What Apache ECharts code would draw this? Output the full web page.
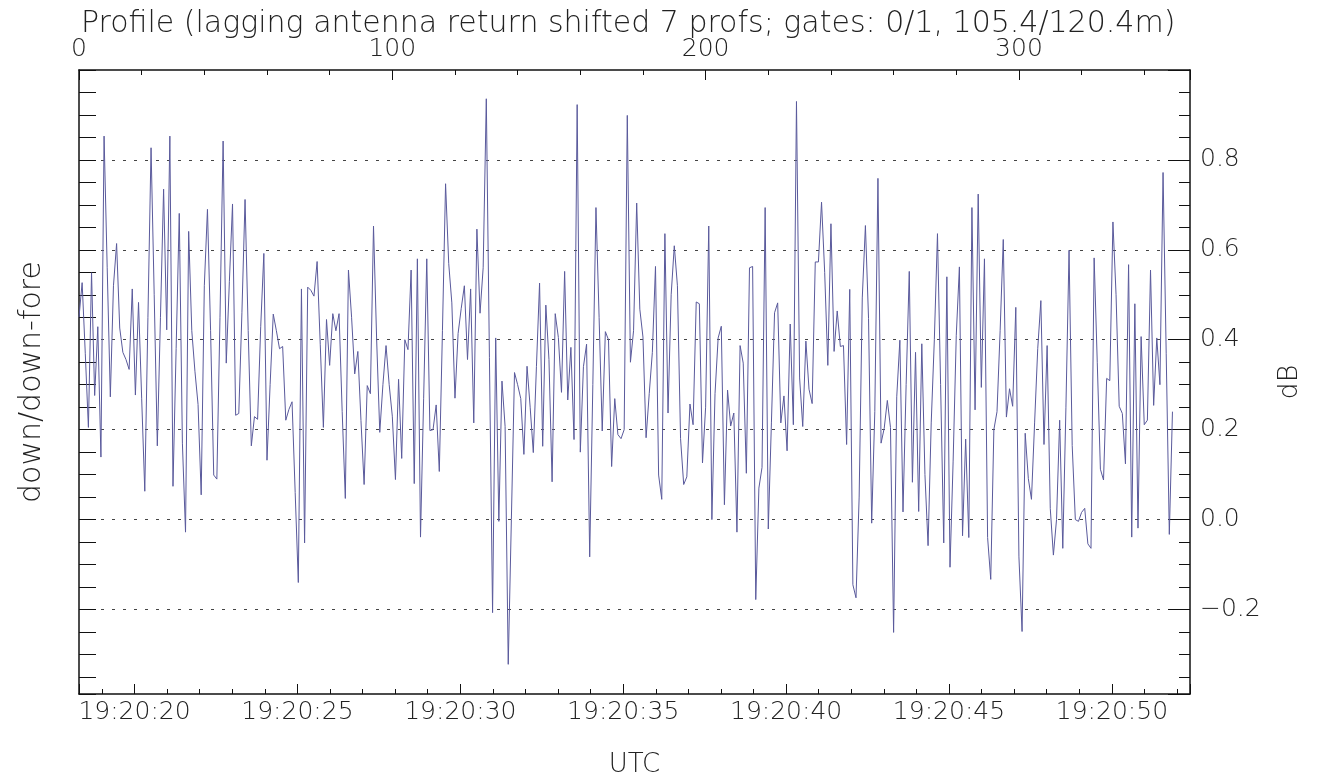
<!DOCTYPE html>
<html><head><meta charset="utf-8">
<script src="https://cdn.jsdelivr.net/npm/echarts@6/dist/echarts.min.js"></script>
<style>html,body{margin:0;padding:0;background:#fff}#c{width:1319px;height:783px}</style>
</head><body><div id="c"></div>
<script>
const titleText = 'Profile (lagging antenna return shifted 7 profs; gates: 0/1, 105.4/120.4m)';
const leftAxisName = 'down/down-fore';
const rightAxisName = 'dB';
const bottomAxisName = 'UTC';
const timePrefix = '19:20:';
// seconds after 19:20:00 at left and right plot edges
const timeStartSec = 18.296;
const timeEndSec = 52.397;
const profileMin = 0;
const profileMax = 354.6;
const yMin = -0.388;
const yMax = 1.0;
// one value per profile (0..349)
const ratioDb = [
0.45,0.527,0.37,0.205,0.549,0.276,0.429,0.139,0.853,0.56,
0.273,0.52,0.614,0.426,0.372,0.356,0.334,0.513,0.277,0.483,
0.27,0.063,0.45,0.827,0.5,0.164,0.45,0.735,0.422,0.853,
0.074,0.38,0.681,0.17,-0.028,0.641,0.42,0.33,0.256,0.055,
0.52,0.69,0.42,0.099,0.09,0.45,0.842,0.348,0.53,0.702,
0.232,0.236,0.46,0.712,0.42,0.164,0.229,0.223,0.43,0.592,
0.132,0.3,0.457,0.42,0.38,0.385,0.221,0.245,0.262,0.06,
-0.14,0.513,-0.052,0.517,0.51,0.497,0.574,0.39,0.205,0.445,
0.343,0.458,0.42,0.458,0.24,0.047,0.555,0.45,0.324,0.374,
0.22,0.078,0.298,0.28,0.653,0.4,0.194,0.3,0.387,0.3,
0.23,0.089,0.312,0.136,0.4,0.378,0.555,0.08,0.58,-0.039,
0.27,0.58,0.198,0.2,0.255,0.107,0.42,0.747,0.57,0.482,
0.27,0.414,0.47,0.52,0.356,0.513,0.215,0.646,0.459,0.56,
0.936,0.36,-0.207,0.404,-0.004,0.308,0.207,-0.322,0.0,0.327,
0.3,0.269,0.145,0.341,0.25,0.149,0.34,0.526,0.163,0.477,
0.356,0.084,0.458,0.405,0.283,0.552,0.266,0.383,0.178,0.923,
0.15,0.34,0.39,-0.083,0.3,0.694,0.45,0.197,0.418,0.4,
0.118,0.269,0.189,0.18,0.2,0.899,0.35,0.42,0.704,0.468,
0.406,0.182,0.28,0.372,0.563,0.099,0.045,0.636,0.237,0.5,
0.609,0.52,0.18,0.078,0.095,0.257,0.211,0.484,0.48,0.126,
0.25,0.653,0.0,0.28,0.404,0.43,0.033,0.288,0.208,0.237,
-0.028,0.387,0.348,0.103,0.56,0.563,-0.178,0.07,0.116,0.694,
-0.021,0.215,0.46,0.482,0.215,0.275,0.153,0.435,0.211,0.93,
0.315,0.207,0.397,0.29,0.258,0.573,0.573,0.706,0.55,0.343,
0.658,0.374,0.464,0.385,0.387,0.167,0.512,-0.145,-0.174,0.05,
0.493,0.654,0.447,-0.008,0.24,0.759,0.17,0.203,0.265,0.205,
-0.251,0.273,0.399,0.017,0.3,0.552,0.083,0.372,0.018,0.391,
0.1,-0.058,0.215,0.4,0.636,0.3,-0.052,0.54,-0.106,0.13,
0.41,0.562,-0.036,0.179,-0.04,0.694,0.244,0.724,0.294,0.58,
-0.04,-0.133,0.2,0.24,0.42,0.623,0.228,0.291,0.252,0.472,
-0.083,-0.249,0.192,0.091,0.045,0.215,0.38,0.487,0.167,0.387,
0.025,-0.079,0.0,0.221,-0.064,0.25,0.599,0.165,0.0,-0.004,
0.016,0.025,-0.054,-0.064,0.582,0.35,0.112,0.088,0.314,0.309,
0.662,0.5,0.252,0.236,0.124,0.567,-0.039,0.48,-0.019,0.407,
0.211,0.221,0.555,0.254,0.404,0.3,0.772,0.37,-0.033,0.24
];
const profiles = ratioDb.map((v, i) => i);

const FONT = 'DejaVu Sans';
const TXT = '#222';
const axisLineStyle = { color: '#111', width: 1.5 };
const labelStyle = { color: TXT, fontFamily: FONT, fontSize: 25, fontWeight: 200 };
const nameStyle = { color: TXT, fontFamily: FONT, fontSize: 30, fontWeight: 200 };

const chart = echarts.init(document.getElementById('c'), null, { renderer: 'canvas' });
chart.setOption({
  animation: false,
  backgroundColor: '#fff',
  title: {
    text: titleText, left: 76, top: 4,
    textStyle: { color: TXT, fontFamily: FONT, fontSize: 30, fontWeight: 200 }
  },
  grid: { left: 79, right: 129, top: 70, bottom: 88, containLabel: false },
  xAxis: [
    {
      type: 'value', position: 'top', min: profileMin, max: profileMax,
      minInterval: 100, maxInterval: 100, splitNumber: 4,
      axisLine: { show: true, onZero: false, lineStyle: axisLineStyle },
      axisTick: { show: true, inside: true, length: 10, lineStyle: { color: '#111' } },
      minorTick: { show: true, splitNumber: 5, length: 5, lineStyle: { color: '#111' } },
      splitLine: { show: false },
      axisLabel: Object.assign({ margin: 8, showMaxLabel: false }, labelStyle)
    },
    {
      type: 'value', position: 'bottom', min: timeStartSec, max: timeEndSec,
      minInterval: 5, maxInterval: 5, splitNumber: 7,
      name: bottomAxisName, nameLocation: 'middle', nameGap: 58,
      nameTextStyle: Object.assign({}, nameStyle, { fontSize: 26 }),
      axisLine: { show: true, onZero: false, lineStyle: axisLineStyle },
      axisTick: { show: true, inside: true, length: 10, lineStyle: { color: '#111' } },
      minorTick: { show: true, splitNumber: 5, length: 5, lineStyle: { color: '#111' } },
      splitLine: { show: false },
      axisLabel: Object.assign({
        margin: 6, showMinLabel: false, showMaxLabel: false,
        formatter: v => timePrefix + String(Math.round(v)).padStart(2, '0')
      }, labelStyle)
    }
  ],
  yAxis: [
    {
      type: 'value', position: 'left', min: yMin, max: yMax,
      minInterval: 0.05, maxInterval: 0.05, splitNumber: 28,
      name: leftAxisName, nameLocation: 'middle', nameGap: 32,
      nameTextStyle: nameStyle,
      axisLine: { show: true, onZero: false, lineStyle: axisLineStyle },
      axisTick: { show: true, inside: true, length: 17, lineStyle: { color: '#111' } },
      axisLabel: { show: false },
      splitLine: { show: false }
    },
    {
      type: 'value', position: 'right', min: yMin, max: yMax,
      minInterval: 0.2, maxInterval: 0.2, splitNumber: 7,
      name: rightAxisName, nameLocation: 'middle', nameGap: 86,
      nameTextStyle: Object.assign({}, nameStyle, { fontSize: 27 }),
      axisLine: { show: true, onZero: false, lineStyle: axisLineStyle },
      axisTick: { show: true, inside: true, length: 22, lineStyle: { color: '#111' } },
      minorTick: { show: true, splitNumber: 4, length: 11, lineStyle: { color: '#111' } },
      splitLine: { show: true, showMinLine: false, showMaxLine: false,
        lineStyle: { color: '#444', width: 1.2, type: [3, 8] } },
      axisLabel: Object.assign({
        margin: 10, showMinLabel: false, showMaxLabel: false,
        formatter: v => (v < -1e-9 ? '\u2212' : '') + Math.abs(v).toFixed(1)
      }, labelStyle)
    }
  ],
  series: [{
    type: 'line', xAxisIndex: 0, yAxisIndex: 0,
    data: profiles.map((p, i) => [p, ratioDb[i]]),
    showSymbol: false, symbol: 'none',
    lineStyle: { color: '#5a5a9c', width: 1 },
    z: 3
  }]
});
</script>
</body></html>
